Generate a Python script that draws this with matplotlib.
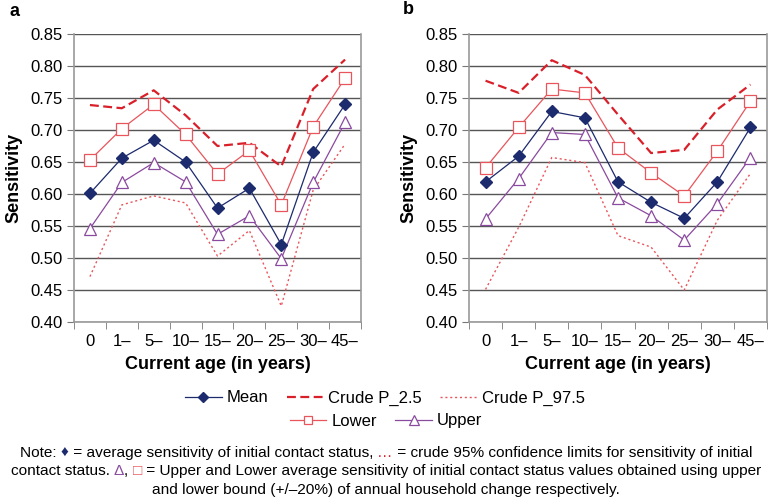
import matplotlib.pyplot as plt
import numpy as np

ages = ['0', '1\u2013', '5\u2013', '10\u2013', '15\u2013', '20\u2013', '25\u2013', '30\u2013', '45\u2013']

# panel a
a_mean = [0.601, 0.656, 0.684, 0.650, 0.578, 0.609, 0.521, 0.665, 0.740]
a_p25 = [0.739, 0.734, 0.762, 0.723, 0.675, 0.680, 0.643, 0.764, 0.810]
a_p975 = [0.471, 0.583, 0.597, 0.586, 0.503, 0.543, 0.425, 0.606, 0.678]
a_lower = [0.653, 0.702, 0.740, 0.693, 0.631, 0.668, 0.583, 0.705, 0.781]
a_upper = [0.546, 0.618, 0.649, 0.619, 0.537, 0.566, 0.499, 0.618, 0.712]

# panel b
b_mean = [0.619, 0.659, 0.729, 0.719, 0.619, 0.587, 0.562, 0.619, 0.704]
b_p25 = [0.777, 0.758, 0.809, 0.786, 0.724, 0.664, 0.669, 0.732, 0.771]
b_p975 = [0.451, 0.548, 0.657, 0.649, 0.535, 0.517, 0.450, 0.559, 0.632]
b_lower = [0.641, 0.704, 0.764, 0.758, 0.672, 0.633, 0.597, 0.667, 0.745]
b_upper = [0.561, 0.624, 0.696, 0.693, 0.594, 0.566, 0.528, 0.585, 0.657]

navy = '#1c2a6e'
red = '#d9202a'
pink = '#e8555c'
purple = '#8a4a9e'

plt.rcParams['font.family'] = ['Liberation Sans', 'DejaVu Sans']

W, H = 769, 499
fig = plt.figure(figsize=(W / 100, H / 100), dpi=100)

def draw(rect, mean, p25, p975, lower, upper):
    ax = fig.add_axes(rect)
    x = np.arange(len(ages))
    ax.plot(x, p25, color=red, linestyle=(0, (4, 2)), linewidth=1.6, label='Crude P_2.5')
    ax.plot(x, p975, color=pink, linestyle=(0, (1.5, 2)), linewidth=1.0, label='Crude P_97.5')
    ax.plot(x, lower, color=pink, linewidth=0.9, marker='s', markersize=8,
            markerfacecolor='white', markeredgecolor=pink, markeredgewidth=0.9, label='Lower')
    ax.plot(x, upper, color=purple, linewidth=0.9, marker='^', markersize=9,
            markerfacecolor='white', markeredgecolor=purple, markeredgewidth=0.9, label='Upper')
    ax.plot(x, mean, color=navy, linewidth=0.9, marker='D', markersize=6.5,
            markerfacecolor=navy, markeredgecolor=navy, label='Mean')
    ax.set_xlim(-0.5, len(ages) - 0.5)
    ax.set_ylim(0.40, 0.85)
    ax.set_yticks(np.arange(0.40, 0.851, 0.05))
    ax.set_yticklabels(['%.2f' % v for v in np.arange(0.40, 0.851, 0.05)], fontsize=12)
    ax.set_xticks(x)
    ax.set_xticklabels(ages, fontsize=12)
    ax.set_xticks(np.arange(-0.5, len(ages)), minor=True)
    ax.tick_params(axis='x', which='major', length=0, pad=9)
    ax.tick_params(axis='x', which='minor', length=5, color='#777777', direction='out')
    ax.tick_params(axis='y', length=5, color='#777777', direction='out', pad=3)
    ax.grid(axis='y', color='#555555', linewidth=1.0)
    ax.set_axisbelow(True)
    ax.spines['top'].set_visible(False)
    for s in ['left', 'right', 'bottom']:
        ax.spines[s].set_color('#999999')
        ax.spines[s].set_linewidth(1.2)
    ax.set_ylabel('Sensitivity', fontsize=13, fontweight='bold', labelpad=6)
    ax.set_xlabel('Current age (in years)', fontsize=13, fontweight='bold', labelpad=5)
    return ax

ax1 = draw([74 / W, 1 - 322 / H, 287 / W, 288 / H], a_mean, a_p25, a_p975, a_lower, a_upper)
ax2 = draw([469 / W, 1 - 322 / H, 298 / W, 288 / H], b_mean, b_p25, b_p975, b_lower, b_upper)

fig.text(10 / W, 1 - 12 / H, 'a', fontsize=13, fontweight='bold', va='center')
fig.text(403 / W, 1 - 10 / H, 'b', fontsize=13, fontweight='bold', va='center')

h, l = ax1.get_legend_handles_labels()
hd = dict(zip(l, h))
leg_kw = dict(loc='center', frameon=False, fontsize=12, handlelength=2.2,
              columnspacing=1.1, handletextpad=0.3, markerscale=0.8, borderpad=0)
fig.legend([hd['Mean'], hd['Crude P_2.5'], hd['Crude P_97.5']], ['Mean', 'Crude P_2.5', 'Crude P_97.5'],
           bbox_to_anchor=(385 / W, 1 - 398 / H), ncol=3, **leg_kw)
fig.legend([hd['Lower'], hd['Upper']], ['Lower', 'Upper'],
           bbox_to_anchor=(386 / W, 1 - 421 / H), ncol=2, **leg_kw)

# note text with coloured symbols
note_lines = [
    [('Note: ', 'black'), ('\u2666', navy), (' = average sensitivity of initial contact status, ', 'black'),
     ('\u2026', red), (' = crude 95% confidence limits for sensitivity of initial', 'black')],
    [('contact status. ', 'black'), ('\u0394', purple), (', ', 'black'), ('\u25a1', pink),
     (' = Upper and Lower average sensitivity of initial contact status values obtained using upper', 'black')],
    [('and lower bound (+/\u201320%) of annual household change respectively.', 'black')],
]
note_y = [453, 471, 490]
renderer = fig.canvas.get_renderer()
note_rows = []
for parts, yy in zip(note_lines, note_y):
    texts = [fig.text(0, 1 - yy / H, s, color=c, fontsize=12, va='center', ha='left') for s, c in parts]
    note_rows.append(texts)

# shrink the note so its widest line fits like the reference (~755 px)
widest = max(sum(t.get_window_extent(renderer).width for t in row) for row in note_rows)
fs = 12 * 755 / widest
for row in note_rows:
    for t in row:
        t.set_fontsize(fs)
    widths = [t.get_window_extent(renderer).width for t in row]
    x0 = 386 - sum(widths) / 2
    for t, w in zip(row, widths):
        t.set_x(x0 / W)
        x0 += w

fig.savefig('out.png', dpi=100)
